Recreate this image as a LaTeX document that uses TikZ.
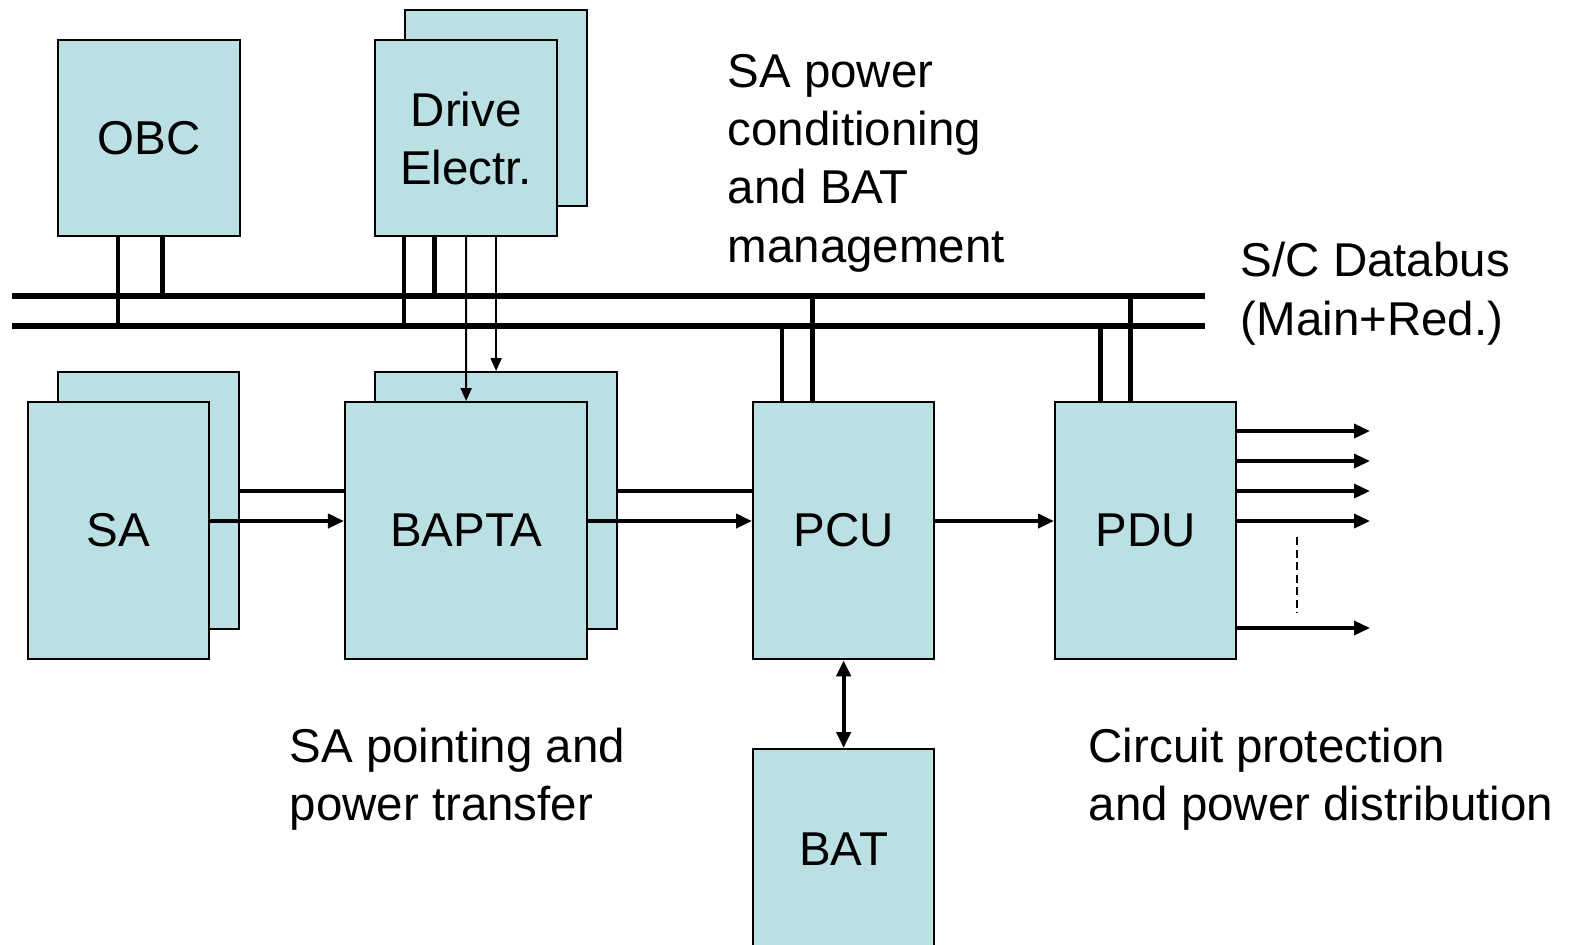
\documentclass[tikz,border=0pt]{standalone}
\usepackage{fontspec}
\setmainfont{Liberation Sans}
\usetikzlibrary{arrows.meta,calc}
\definecolor{boxfill}{RGB}{186,224,227}
\begin{document}
\begin{tikzpicture}[x=0.01cm,y=-0.01cm,
  every node/.style={font=\fontsize{13.5pt}{16.5pt}\selectfont},
  blk/.style={draw=black, line width=0.6pt, fill=boxfill, inner sep=0pt,
    anchor=north west, align=center, minimum width=1.81cm, minimum height=2.57cm},
  txt/.style={anchor=base west, align=left, inner sep=0pt},
  bus/.style={line width=1.7pt},
  stub/.style={line width=1.4pt},
  conn/.style={line width=1.1pt},
  arr/.style={line width=1.1pt, -{Triangle[length=0.16cm,width=0.14cm]}},
  thinarr/.style={line width=0.6pt, -{Triangle[length=0.13cm,width=0.11cm]}},
  outarr/.style={line width=1pt, -{Triangle[length=0.16cm,width=0.14cm]}},
  dbl/.style={line width=1.2pt, {Triangle[length=0.16cm,width=0.14cm]}-{Triangle[length=0.16cm,width=0.14cm]}}
]
\useasboundingbox (0,0) rectangle (1570,944);

% bus
\coordinate (uw) at (12,296);
\coordinate (ue) at (1205,296);
\coordinate (lw) at (12,326);
\coordinate (le) at (1205,326);
\draw[bus] (uw) -- (ue);
\draw[bus] (lw) -- (le);

% rows
\coordinate (r1) at (0,491);
\coordinate (r2) at (0,521);
\coordinate (o1) at (0,431);
\coordinate (o2) at (0,461);
\coordinate (o3) at (0,491);
\coordinate (o4) at (0,521);
\coordinate (o5) at (0,628);
\coordinate (oend) at (1370,0);
\coordinate (d1) at (1297,537);
\coordinate (d2) at (1297,613);

% blocks
\node[blk, minimum width=1.82cm, minimum height=1.96cm] (obc) at (57,39) {OBC};
\node[blk, minimum width=1.82cm, minimum height=1.96cm] (driveb) at (404,9) {};
\node[blk, minimum width=1.82cm, minimum height=1.96cm] (drive) at (374,39) {Drive\\Electr.};
\node[blk] (sab) at (57,371) {};
\node[blk] (sa) at (27,401) {SA};
\node[blk, minimum width=2.42cm] (baptab) at (374,371) {};
\node[blk, minimum width=2.42cm] (bapta) at (344,401) {BAPTA};
\node[blk] (pcu) at (752,401) {PCU};
\node[blk] (pdu) at (1054,401) {PDU};
\node[blk, minimum height=2.0cm] (bat) at (752,748) {BAT};

% bus stubs
\draw[stub] ([xshift=0.61cm]obc.south west) -- ([xshift=0.61cm]obc.south west |- lw);
\draw[stub] ([xshift=1.05cm]obc.south west) -- ([xshift=1.05cm]obc.south west |- uw);
\draw[stub] ([xshift=0.30cm]drive.south west) -- ([xshift=0.30cm]drive.south west |- lw);
\draw[stub] ([xshift=0.60cm]drive.south west) -- ([xshift=0.60cm]drive.south west |- uw);
\draw[stub] ([xshift=0.30cm]pcu.north west) -- ([xshift=0.30cm]pcu.north west |- lw);
\draw[stub] ([xshift=0.60cm]pcu.north west) -- ([xshift=0.60cm]pcu.north west |- uw);
\draw[stub] ([xshift=0.46cm]pdu.north west) -- ([xshift=0.46cm]pdu.north west |- lw);
\draw[stub] ([xshift=0.76cm]pdu.north west) -- ([xshift=0.76cm]pdu.north west |- uw);

% drive electronics to BAPTA
\draw[thinarr] (drive.south) -- (bapta.north);
\draw[thinarr] (drive.south -| baptab.north) -- (baptab.north);

% power chain
\draw[conn] (sab.east |- r1) -- (bapta.west |- r1);
\draw[arr] (sa.east |- r2) -- (bapta.west |- r2);
\draw[conn] (baptab.east |- r1) -- (pcu.west |- r1);
\draw[arr] (bapta.east |- r2) -- (pcu.west |- r2);
\draw[arr] (pcu.east |- r2) -- (pdu.west |- r2);
\draw[dbl] (pcu.south) -- (bat.north);

% outputs
\draw[outarr] (pdu.east |- o1) -- (oend |- o1);
\draw[outarr] (pdu.east |- o2) -- (oend |- o2);
\draw[outarr] (pdu.east |- o3) -- (oend |- o3);
\draw[outarr] (pdu.east |- o4) -- (oend |- o4);
\draw[outarr] (pdu.east |- o5) -- (oend |- o5);
\draw[line width=0.8pt, dash pattern=on 0.08cm off 0.045cm] (d1) -- (d2);

% labels (anchor = baseline of last line)
\node[txt] (t1) at (727,262) {SA power\\conditioning\\and BAT\\management};
\node[txt] (t2) at (1240,335) {S/C Databus\\(Main+Red.)};
\node[txt] (t3) at (289,820) {SA pointing and\\power transfer};
\node[txt] (t4) at (1088,820) {Circuit protection\\and power distribution};
\end{tikzpicture}
\end{document}
